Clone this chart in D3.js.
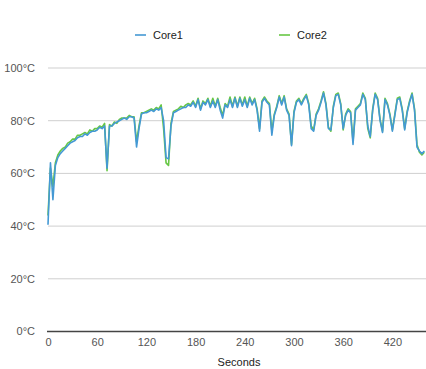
<!DOCTYPE html>
<html>
<head>
<meta charset="utf-8">
<script src="https://cdn.jsdelivr.net/npm/d3@7"></script>
<style>
  body { margin: 0; background: #fff; }
  text { font-family: "Liberation Sans", Arial, sans-serif; }
</style>
</head>
<body>
<div id="temp_chart"></div>
<script>
// sample step in seconds
const step = 3;

const core1 = [
  40.5, 64, 50, 63, 66, 67.5, 68.5, 69.5, 70.5, 71.5,
  72, 72.5, 73.5, 74, 74, 75, 74.5, 75.5, 76, 76,
  76.5, 77.5, 77, 78, 62, 78, 78, 79, 79.5, 80,
  80.5, 81, 80.5, 81.5, 81.5, 81, 70, 77, 82.5, 83,
  83, 83.5, 84, 83.5, 84.5, 84, 85, 80, 66, 65.5,
  78, 83, 83.5, 84, 84.5, 85, 85, 86, 85.5, 87,
  85, 88, 84, 87, 86, 88, 85, 87.5, 85, 88,
  84, 81, 86, 85, 88, 85, 88.5, 85, 88.5, 85.5,
  88, 85, 88.5, 86, 88, 84, 76, 87, 88.5, 87,
  86, 74.5, 82, 85, 89, 86, 89, 84, 82, 70.5,
  83, 87, 88, 86, 88, 89.5, 86, 77, 76, 82,
  84, 87, 90.5, 86, 77, 76.5, 85, 89.5, 90, 86,
  77, 82, 84, 83, 71, 84, 85, 86, 90, 88,
  78, 74, 84, 90, 88, 80, 75.5, 88, 86, 82,
  76, 82, 88, 88.5, 84, 76.5, 83, 87, 90, 84,
  70, 68.5, 67.5, 68.5
];

const core2 = [
  44, 62, 55, 64, 67, 68.5, 69.5, 70, 71.5, 72,
  73, 73, 74.5, 74.5, 75, 75.5, 75, 76.5, 76, 77,
  77, 78, 77.5, 79, 61, 78.5, 78, 79.5, 79, 80.5,
  81, 81, 81, 82, 81.5, 81.5, 72, 78, 83, 83,
  83.5, 84, 84.5, 84, 85, 84.5, 86, 77, 64, 63,
  79, 83.5, 84, 84.5, 85.5, 85, 86, 86.5, 86, 87.5,
  85.5, 88.5, 84.5, 87.5, 86.5, 88.5, 85.5, 88.5, 85.5, 88.5,
  85, 82, 86.5, 85.5, 89, 85.5, 89, 85.5, 89, 86,
  89, 85.5, 89, 86.5, 88.5, 84.5, 77, 87.5, 89, 87.5,
  86.5, 76, 82.5, 85.5, 89.5, 86.5, 89.5, 84.5, 82.5, 71,
  83.5, 87.5, 88.5, 86.5, 88.5, 90, 86.5, 78, 76.5, 82.5,
  84.5, 87.5, 91, 86.5, 77.5, 76, 85.5, 90, 90.5, 86.5,
  76.5, 82.5, 84.5, 83.5, 72, 84.5, 85.5, 86.5, 90.5, 88.5,
  77, 73.5, 84.5, 90.5, 88.5, 80.5, 76, 88.5, 86.5, 82.5,
  76.5, 82.5, 88.5, 89, 84.5, 77, 83.5, 87.5, 90.5, 84.5,
  71, 68, 67, 68
];

const xTicks = [0, 60, 120, 180, 240, 300, 360, 420];
const yTicks = [0, 20, 40, 60, 80, 100];

const series = [
  { name: 'Core2', values: core2, color: '#67c745' },
  { name: 'Core1', values: core1, color: '#4499d4' },
];

const width = 426, height = 369;
const margin = { top: 68, right: 0, bottom: 37.5, left: 48 };

const svg = d3.select('#temp_chart')
  .append('svg')
  .attr('width', width)
  .attr('height', height);

const xScale = d3.scaleLinear()
  .domain([0, 461])
  .range([margin.left, width - margin.right]);

const yScale = d3.scaleLinear()
  .domain([0, 100])
  .range([height - margin.bottom, margin.top]);

//horizontal grid lines
svg.append('g')
  .selectAll('line')
  .data(yTicks.filter(d => d > 0))
  .join('line')
  .attr('x1', margin.left)
  .attr('x2', width)
  .attr('y1', d => yScale(d))
  .attr('y2', d => yScale(d))
  .attr('stroke', '#cfcfcf')
  .attr('stroke-width', 1);

//y labels
svg.append('g')
  .selectAll('text')
  .data(yTicks)
  .join('text')
  .attr('x', 35)
  .attr('y', d => yScale(d))
  .attr('dy', '0.35em')
  .attr('text-anchor', 'end')
  .attr('font-size', 11)
  .attr('fill', '#555')
  .text(d => d + '°C');

//lines
const lineGenerator = d3.line()
  .x((d, i) => xScale(i * step))
  .y(d => yScale(d));

svg.append('g')
  .selectAll('path')
  .data(series)
  .join('path')
  .attr('d', d => lineGenerator(d.values))
  .attr('fill', 'none')
  .attr('stroke', d => d.color)
  .attr('stroke-width', 1.6)
  .attr('stroke-linejoin', 'round');

//x axis baseline
svg.append('line')
  .attr('x1', margin.left - 1)
  .attr('x2', width)
  .attr('y1', yScale(0))
  .attr('y2', yScale(0))
  .attr('stroke', '#444')
  .attr('stroke-width', 1.5);

const xAxis = svg.append('g')
  .attr('transform', 'translate(0,' + yScale(0) + ')')
  .call(d3.axisBottom(xScale).tickValues(xTicks).tickSize(0).tickPadding(7));

xAxis.select('.domain').remove();
xAxis.selectAll('text')
  .attr('font-size', 11)
  .attr('font-family', '"Liberation Sans", Arial, sans-serif')
  .attr('fill', '#555');

svg.append('text')
  .attr('x', 239)
  .attr('y', 362)
  .attr('dy', '0.35em')
  .attr('text-anchor', 'middle')
  .attr('font-size', 11)
  .attr('fill', '#222')
  .text('Seconds');

//legend
const legend = [
  { name: 'Core1', color: '#4499d4', x: 135 },
  { name: 'Core2', color: '#67c745', x: 279 },
];

const lg = svg.append('g')
  .selectAll('g')
  .data(legend)
  .join('g')
  .attr('transform', d => 'translate(' + d.x + ',35)');

lg.append('line')
  .attr('x1', 0)
  .attr('x2', 11)
  .attr('stroke', d => d.color)
  .attr('stroke-width', 1.6);

lg.append('text')
  .attr('x', 18)
  .attr('dy', '0.35em')
  .attr('font-size', 11)
  .attr('fill', '#222')
  .text(d => d.name);
</script>
</body>
</html>
